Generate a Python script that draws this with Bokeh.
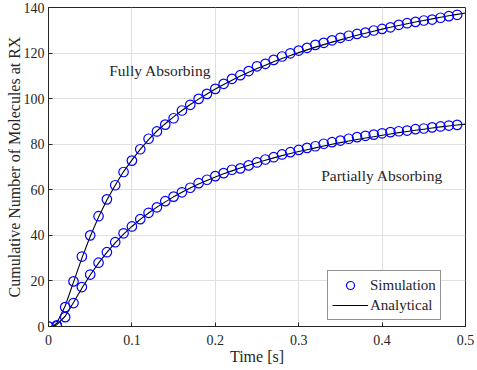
from bokeh.plotting import figure
from bokeh.models import Range1d, FixedTicker, Legend, LegendItem
from bokeh.core.properties import value
from bokeh.embed import file_html
from bokeh.resources import INLINE

# ---- data ----
t_sim = [round(0.01 * i, 2) for i in range(50)]
fully_sim = [0, 0.5, 8.5, 19.8, 30.7, 40.0, 48.4, 55.8, 62.0, 67.8, 72.8, 77.8, 82.4, 85.6, 88.6,
             91.4, 94.8, 97.3, 99.9, 102.1, 104.3, 106.5, 108.7, 110.3, 112.1, 114.2, 115.3, 117.0,
             118.5, 119.9, 121.1, 122.3, 123.6, 124.5, 125.6, 126.7, 127.6, 128.4, 129.0, 129.9,
             130.6, 131.3, 132.4, 133.1, 133.7, 134.3, 134.7, 135.5, 136.2, 136.8]
partial_sim = [0, 0.1, 4.1, 10.3, 17.3, 22.8, 28.0, 32.6, 37.0, 40.9, 43.9, 47.1, 49.9, 52.3, 55.0,
               57.0, 58.9, 60.9, 62.9, 64.4, 66.0, 67.3, 68.8, 69.4, 70.7, 72.0, 73.3, 74.3, 75.5,
               76.5, 77.5, 78.4, 79.1, 80.2, 80.9, 81.6, 82.4, 83.1, 83.7, 84.2, 84.8, 85.3, 85.7,
               86.0, 86.6, 86.9, 87.4, 87.8, 88.2, 88.5]
t_ana = [0.005] + [round(0.01 * i, 2) for i in range(1, 51)]
fully_ana = [0, 1.5, 9.0, 19.5, 30.0, 39.5, 48.0, 55.5, 62.0, 68.0, 73.0, 77.7, 82.0, 85.8, 89.0,
             92.0, 94.8, 97.4, 99.8, 102.0, 104.2, 106.2, 108.1, 109.9, 111.6, 113.2, 114.7, 116.2,
             117.6, 118.9, 120.2, 121.4, 122.6, 123.7, 124.8, 125.8, 126.8, 127.8, 128.7, 129.6,
             130.5, 131.3, 132.1, 132.9, 133.6, 134.3, 135.0, 135.7, 136.4, 137.0, 137.6]
partial_ana = [0, 0.8, 4.5, 10.5, 16.8, 22.6, 27.8, 32.5, 36.7, 40.5, 43.9, 47.0, 49.8, 52.4, 54.7,
               56.9, 58.9, 60.8, 62.5, 64.1, 65.6, 67.0, 68.3, 69.6, 70.8, 71.9, 73.0, 74.0, 75.0,
               75.9, 76.8, 77.6, 78.4, 79.2, 80.0, 80.7, 81.4, 82.1, 82.7, 83.3, 83.9, 84.5, 85.1,
               85.6, 86.1, 86.6, 87.1, 87.6, 88.0, 88.4, 88.8]
x_ticks = [0, 0.1, 0.2, 0.3, 0.4, 0.5]
x_tick_labels = ["0", "0.1", "0.2", "0.3", "0.4", "0.5"]
y_ticks = [0, 20, 40, 60, 80, 100, 120, 140]
x_title = "Time [s]"
y_title = "Cumulative Number of Molecules at RX"
label_texts = ["Fully Absorbing", "Partially Absorbing"]
label_x = [0.134, 0.40]
label_y = [112.3, 66.3]

FONT = "Liberation Serif"
TXT = "#262626"
BLUE = "#0000ff"

p = figure(width=477, height=370, output_backend="svg", toolbar_location=None,
           x_range=Range1d(0, 0.5), y_range=Range1d(0, 140),
           min_border_left=48, min_border_right=12, min_border_top=7, min_border_bottom=44)
p.background_fill_color = "white"
p.border_fill_color = "white"
p.outline_line_color = TXT
p.outline_line_width = 1

for ax in (p.xaxis[0], p.yaxis[0]):
    ax.axis_line_color = TXT
    ax.major_tick_line_color = TXT
    ax.major_tick_in = 4
    ax.major_tick_out = 0
    ax.minor_tick_line_color = None
    ax.major_label_text_font = FONT
    ax.major_label_text_font_size = "14px"
    ax.major_label_text_color = TXT
    ax.axis_label_text_font = FONT
    ax.axis_label_text_font_size = "16px"
    ax.axis_label_text_font_style = "normal"
    ax.axis_label_text_color = TXT

p.xaxis.ticker = FixedTicker(ticks=x_ticks)
p.xaxis.major_label_overrides = {t: l for t, l in zip(x_ticks, x_tick_labels)}
p.yaxis.ticker = FixedTicker(ticks=y_ticks)
p.xaxis.axis_label = x_title
p.yaxis.axis_label = y_title
p.xaxis.major_label_standoff = 8
p.xaxis.axis_label_standoff = 0
p.yaxis.major_label_standoff = 4
p.yaxis.axis_label_standoff = -2

p.xgrid.ticker = FixedTicker(ticks=x_ticks)
p.ygrid.ticker = FixedTicker(ticks=y_ticks)
p.grid.grid_line_color = "#dfdfdf"
p.grid.grid_line_width = 1

l1 = p.line(t_ana, fully_ana, line_color="black", line_width=1.1)
p.line(t_ana, partial_ana, line_color="black", line_width=1.1)
s1 = p.scatter(t_sim, fully_sim, marker="circle", size=9.5, fill_color=None,
               line_color=BLUE, line_width=1.2)
p.scatter(t_sim, partial_sim, marker="circle", size=9.5, fill_color=None,
          line_color=BLUE, line_width=1.2)

p.text(x=label_x, y=label_y, text=label_texts, text_font=value(FONT), text_font_size="15.5px",
       text_color=TXT, text_align="center", text_baseline="middle")

legend = Legend(items=[LegendItem(label="Simulation", renderers=[s1]),
                       LegendItem(label="Analytical", renderers=[l1])],
                location=(279, 6), label_text_font=FONT, label_text_font_size="15px",
                label_text_color=TXT, border_line_color=TXT, border_line_width=1,
                padding=4, spacing=0, glyph_width=36, glyph_height=20, label_height=20,
                label_standoff=2, margin=0, background_fill_alpha=1)
p.add_layout(legend, "center")

open("out.html", "w").write(file_html(p, INLINE))
